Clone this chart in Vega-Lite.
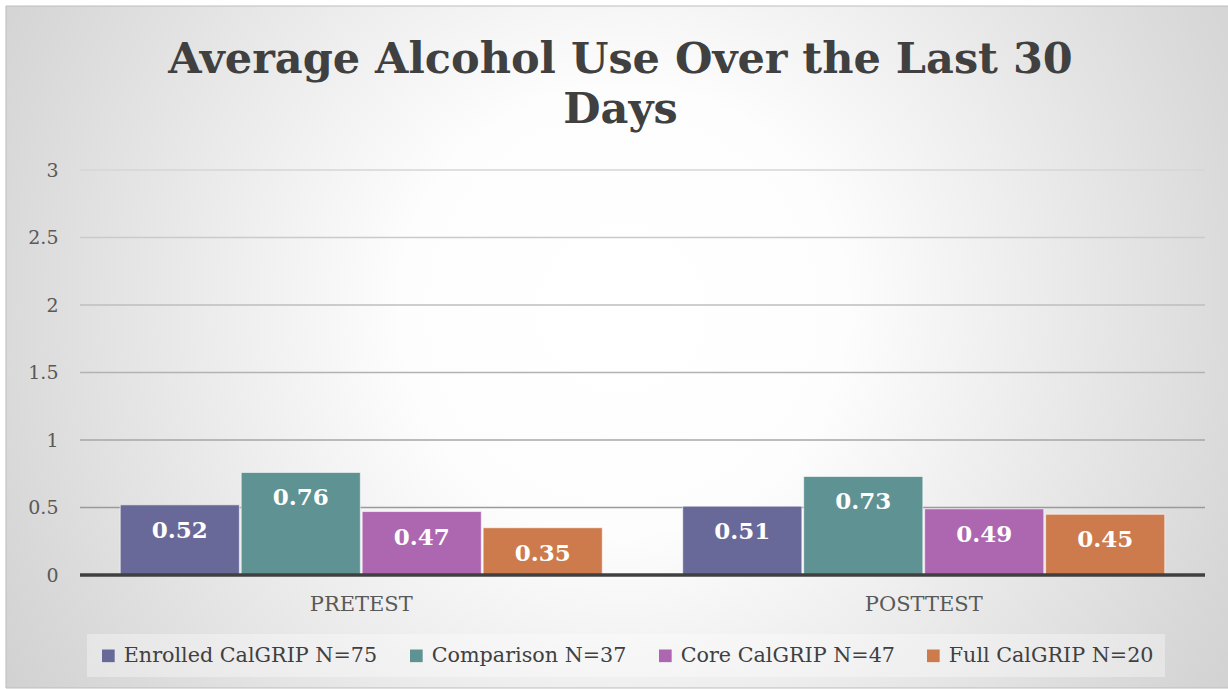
{
  "$schema": "https://vega.github.io/schema/vega-lite/v6.json",
  "width": 1125,
  "height": 405,
  "autosize": {"type": "none"},
  "padding": {"left": 80, "top": 170, "right": 23, "bottom": 114},
  "background": "#ffffff",
  "title": {
    "text": ["Average Alcohol Use Over the Last 30", "Days"],
    "font": "DejaVu Serif",
    "fontSize": 43,
    "fontWeight": "bold",
    "color": "#404040",
    "anchor": "middle",
    "baseline": "top",
    "dx": -22,
    "offset": -126,
    "lineHeight": 50
  },
  "datasets": {
    "bars": [
      {"phase": "PRETEST", "series": "Enrolled CalGRIP N=75", "value": 0.52},
      {"phase": "PRETEST", "series": "Comparison N=37", "value": 0.76},
      {"phase": "PRETEST", "series": "Core CalGRIP N=47", "value": 0.47},
      {"phase": "PRETEST", "series": "Full CalGRIP N=20", "value": 0.35},
      {"phase": "POSTTEST", "series": "Enrolled CalGRIP N=75", "value": 0.51},
      {"phase": "POSTTEST", "series": "Comparison N=37", "value": 0.73},
      {"phase": "POSTTEST", "series": "Core CalGRIP N=47", "value": 0.49},
      {"phase": "POSTTEST", "series": "Full CalGRIP N=20", "value": 0.45}
    ],
    "grid": [{"g": 0.5}, {"g": 1}, {"g": 1.5}, {"g": 2}, {"g": 2.5}, {"g": 3}]
  },
  "resolve": {"scale": {"x": "independent"}},
  "layer": [
    {
      "data": {"values": [{}]},
      "mark": {
        "type": "rect",
        "clip": false,
        "stroke": "#bdbdbd",
        "strokeWidth": 1,
        "fill": {
          "gradient": "radial",
          "x1": 0.5, "y1": 0.47, "r1": 0,
          "x2": 0.5, "y2": 0.47, "r2": 0.72,
          "stops": [
            {"offset": 0, "color": "#ffffff"},
            {"offset": 0.25, "color": "#fdfdfd"},
            {"offset": 0.72, "color": "#d8d8d8"},
            {"offset": 1, "color": "#c4c4c4"}
          ]
        }
      },
      "encoding": {
        "x": {"datum": -0.0658, "type": "quantitative", "scale": {"domain": [0, 1]}, "axis": null},
        "x2": {"datum": 1.03},
        "y": {"datum": 4.2148, "type": "quantitative"},
        "y2": {"datum": -0.837}
      }
    },
    {
      "data": {"name": "grid"},
      "mark": {"type": "rule", "strokeWidth": 1.5},
      "encoding": {
        "y": {"field": "g", "type": "quantitative"},
        "stroke": {
          "field": "g",
          "type": "quantitative",
          "scale": {"domain": [0.5, 3], "range": ["#9a9a9a", "#d6d6d6"]},
          "legend": null
        }
      }
    },
    {
      "data": {"name": "bars"},
      "encoding": {
        "x": {
          "field": "phase",
          "type": "nominal",
          "sort": ["PRETEST", "POSTTEST"],
          "scale": {"paddingInner": 0.143, "paddingOuter": 0.0715},
          "axis": {
            "title": null,
            "labelAngle": 0,
            "labelFont": "DejaVu Serif",
            "labelFontSize": 21,
            "labelColor": "#595959",
            "labelPadding": 18,
            "ticks": false,
            "domain": false,
            "zindex": 1
          }
        },
        "xOffset": {
          "field": "series",
          "type": "nominal",
          "sort": ["Enrolled CalGRIP N=75", "Comparison N=37", "Core CalGRIP N=47", "Full CalGRIP N=20"],
          "scale": {"paddingInner": 0.015}
        },
        "y": {
          "field": "value",
          "type": "quantitative",
          "scale": {"domain": [0, 3], "nice": false},
          "axis": {
            "title": null,
            "values": [0, 0.5, 1, 1.5, 2, 2.5, 3],
            "format": "~g",
            "grid": false,
            "ticks": false,
            "domain": false,
            "labelFont": "DejaVu Serif",
            "labelFontSize": 19,
            "labelColor": "#595959",
            "labelPadding": 22,
            "zindex": 1
          }
        }
      },
      "layer": [
        {
          "mark": {"type": "bar", "stroke": "#ffffff", "strokeOpacity": 0.6, "strokeWidth": 1},
          "encoding": {
            "color": {
              "field": "series",
              "type": "nominal",
              "scale": {
                "domain": ["Enrolled CalGRIP N=75", "Comparison N=37", "Core CalGRIP N=47", "Full CalGRIP N=20"],
                "range": ["#686998", "#5e9293", "#ad67b0", "#cd7b4c"]
              },
              "legend": {
                "title": null,
                "orient": "none",
                "legendX": 7,
                "legendY": 464,
                "direction": "horizontal",
                "columns": 4,
                "columnPadding": 28,
                "symbolType": "square",
                "symbolSize": 160,
                "symbolStrokeWidth": 0,
                "labelFont": "DejaVu Serif",
                "labelFontSize": 20.7,
                "labelColor": "#404040",
                "labelOffset": 5,
                "labelLimit": 400,
                "padding": 11,
                "fillColor": "rgba(255,255,255,0.35)"
              }
            }
          }
        },
        {
          "mark": {
            "type": "text",
            "font": "DejaVu Serif",
            "fontSize": 23,
            "fontWeight": "bold",
            "color": "#ffffff",
            "baseline": "middle",
            "dy": 26
          },
          "encoding": {
            "text": {"field": "value", "type": "quantitative", "format": ".2f"}
          }
        }
      ]
    },
    {
      "data": {"values": [{}]},
      "mark": {"type": "rule", "color": "#404040", "strokeWidth": 3.5},
      "encoding": {"y": {"datum": 0, "type": "quantitative"}}
    }
  ]
}
